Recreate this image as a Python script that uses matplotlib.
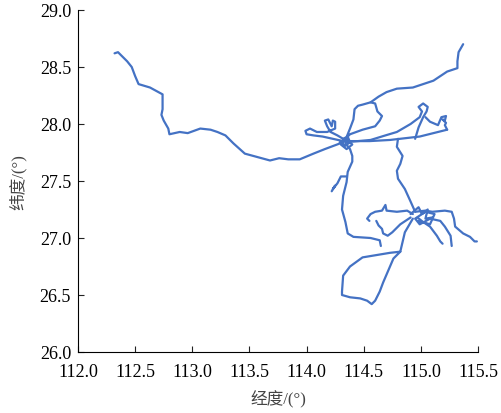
import matplotlib
matplotlib.use('Agg')
from matplotlib import pyplot as plt

plt.rcParams['font.family'] = ['Liberation Serif', 'Noto Sans CJK SC', 'DejaVu Sans']

# trajectory pieces (longitude, latitude)
west_lon = [112.32, 112.35, 112.38, 112.43, 112.47, 112.50, 112.53, 112.63, 112.74, 112.74, 112.73, 112.75,
            112.79, 112.80, 112.89, 112.96, 113.07, 113.16, 113.22, 113.29, 113.36, 113.46, 113.57, 113.68,
            113.76, 113.84, 113.94, 114.06, 114.16, 114.32]
west_lat = [28.62, 28.63, 28.60, 28.55, 28.50, 28.42, 28.35, 28.32, 28.26, 28.13, 28.08, 28.03,
            27.96, 27.91, 27.93, 27.92, 27.96, 27.95, 27.93, 27.90, 27.83, 27.74, 27.71, 27.68,
            27.70, 27.69, 27.69, 27.74, 27.78, 27.84]

knot_w_lon = [114.32, 114.27, 114.21, 114.18, 114.16, 114.19, 114.22, 114.23, 114.25, 114.25, 114.18, 114.09,
              114.03, 113.99, 114.00, 114.06, 114.14, 114.23, 114.32]
knot_w_lat = [27.87, 27.90, 27.93, 27.98, 28.03, 28.04, 27.98, 28.03, 28.02, 27.96, 27.93, 27.93,
              27.96, 27.94, 27.91, 27.90, 27.89, 27.87, 27.85]

hub_lon = [114.32, 114.36, 114.38, 114.34, 114.29, 114.35, 114.40, 114.35, 114.30, 114.34]
hub_lat = [27.87, 27.89, 27.84, 27.81, 27.84, 27.87, 27.82, 27.78, 27.82, 27.86]

loop_n_lon = [114.34, 114.38, 114.41, 114.42, 114.45, 114.49, 114.56, 114.60, 114.62, 114.66, 114.64, 114.60,
              114.49, 114.38, 114.34]
loop_n_lat = [27.86, 27.96, 28.04, 28.13, 28.16, 28.17, 28.19, 28.18, 28.11, 28.07, 28.03, 27.98,
              27.95, 27.91, 27.87]

ne_lon = [114.56, 114.63, 114.70, 114.79, 114.93, 115.02, 115.11, 115.23, 115.32, 115.32, 115.33, 115.37]
ne_lat = [28.19, 28.24, 28.28, 28.31, 28.32, 28.35, 28.38, 28.46, 28.49, 28.55, 28.63, 28.70]

east1_lon = [114.34, 114.55, 114.73, 114.99, 115.23]
east1_lat = [27.85, 27.85, 27.86, 27.89, 27.95]

east2_lon = [114.34, 114.56, 114.69, 114.79, 114.91, 114.99, 115.01, 114.98, 115.02, 115.06, 115.05, 115.02,
             114.98, 114.95]
east2_lat = [27.84, 27.86, 27.90, 27.93, 28.00, 28.06, 28.11, 28.15, 28.18, 28.15, 28.11, 28.06,
             27.97, 27.87]

east3_lon = [115.04, 115.08, 115.15, 115.18, 115.22, 115.21, 115.19, 115.22, 115.21, 115.23]
east3_lat = [28.06, 28.02, 27.99, 28.06, 28.07, 28.03, 28.04, 28.01, 27.99, 27.95]

right_lon = [114.80, 114.79, 114.84, 114.82, 114.79, 114.80, 114.86, 114.91, 114.95]
right_lat = [27.87, 27.80, 27.72, 27.65, 27.59, 27.52, 27.43, 27.32, 27.23]

left_lon = [114.34, 114.38, 114.40, 114.40, 114.36, 114.35, 114.32, 114.31, 114.34, 114.36, 114.41, 114.56,
            114.64, 114.65]
left_lat = [27.83, 27.78, 27.72, 27.67, 27.58, 27.49, 27.37, 27.25, 27.14, 27.04, 27.01, 27.00,
            26.98, 26.93]

side_lon = [114.35, 114.30, 114.27, 114.23, 114.25, 114.22]
side_lat = [27.54, 27.54, 27.48, 27.43, 27.46, 27.41]

mid1_lon = [114.93, 114.88, 114.79, 114.70, 114.69, 114.66, 114.60, 114.56, 114.53, 114.55]
mid1_lat = [27.21, 27.24, 27.23, 27.24, 27.29, 27.24, 27.23, 27.21, 27.17, 27.15]

mid2_lon = [114.91, 114.82, 114.75, 114.71, 114.67, 114.66, 114.63, 114.61]
mid2_lat = [27.18, 27.12, 27.05, 27.02, 27.04, 27.08, 27.11, 27.15]

south_lon = [114.93, 114.86, 114.82, 114.73, 114.49, 114.38, 114.32, 114.31, 114.31, 114.38, 114.47, 114.53,
             114.57, 114.60, 114.64, 114.67, 114.76, 114.82]
south_lat = [27.17, 27.05, 26.88, 26.87, 26.83, 26.75, 26.67, 26.53, 26.50, 26.48, 26.47, 26.45,
             26.42, 26.45, 26.53, 26.61, 26.82, 26.88]

knot_e_lon = [114.91, 114.98, 115.01, 115.06, 115.04, 115.10, 114.99, 114.95, 115.04, 115.12, 115.08, 114.98]
knot_e_lat = [27.21, 27.27, 27.21, 27.25, 27.17, 27.18, 27.12, 27.17, 27.23, 27.21, 27.12, 27.15]

eb1_lon = [114.95, 115.04, 115.10, 115.21, 115.27, 115.29, 115.30, 115.37, 115.43, 115.47, 115.49]
eb1_lat = [27.23, 27.24, 27.23, 27.24, 27.23, 27.17, 27.10, 27.04, 27.01, 26.97, 26.97]

eb2_lon = [114.97, 115.02, 115.08, 115.14, 115.17, 115.19]
eb2_lat = [27.18, 27.14, 27.10, 27.02, 26.97, 26.95]

eb3_lon = [115.08, 115.17, 115.21, 115.26, 115.27]
eb3_lat = [27.17, 27.15, 27.10, 27.02, 26.93]

pieces = [(west_lon, west_lat), (knot_w_lon, knot_w_lat), (hub_lon, hub_lat), (loop_n_lon, loop_n_lat),
          (ne_lon, ne_lat), (east1_lon, east1_lat), (east2_lon, east2_lat), (east3_lon, east3_lat),
          (right_lon, right_lat), (left_lon, left_lat), (side_lon, side_lat), (mid1_lon, mid1_lat),
          (mid2_lon, mid2_lat), (south_lon, south_lat), (knot_e_lon, knot_e_lat), (eb1_lon, eb1_lat),
          (eb2_lon, eb2_lat), (eb3_lon, eb3_lat)]

fig = plt.figure(figsize=(5.02, 4.14), dpi=100)
ax = fig.add_axes([78/502, 1-353/414, 400/502, 342/414])
for lon, lat in pieces:
    ax.plot(lon, lat, color='#4472C4', linewidth=1.6, solid_joinstyle='round', solid_capstyle='round')

ax.set_xlim(112.0, 115.5)
ax.set_ylim(26.0, 29.0)
ax.set_xticks([112.0, 112.5, 113.0, 113.5, 114.0, 114.5, 115.0, 115.5])
ax.set_yticks([26.0, 26.5, 27.0, 27.5, 28.0, 28.5, 29.0])
ax.xaxis.set_major_formatter(matplotlib.ticker.FormatStrFormatter('%.1f'))
ax.yaxis.set_major_formatter(matplotlib.ticker.FormatStrFormatter('%.1f'))
ax.spines['top'].set_visible(False)
ax.spines['right'].set_visible(False)
ax.tick_params(direction='in', length=4, labelsize=13, color='#222222')
ax.tick_params(axis='x', pad=8)
ax.tick_params(axis='y', pad=5)
ax.set_xlabel('经度/(°)', fontsize=12, color='#444444', labelpad=7)
ax.set_ylabel('纬度/(°)', fontsize=12, color='#444444', labelpad=9)

fig.savefig('out.png', dpi=100)
